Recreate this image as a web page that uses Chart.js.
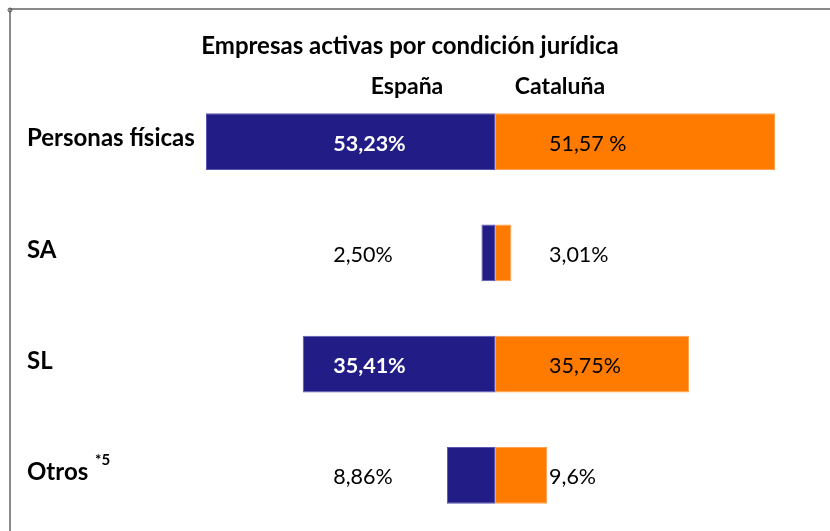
<!DOCTYPE html>
<html>
<head>
<meta charset="utf-8">
<script src="https://cdn.jsdelivr.net/npm/chart.js@4/dist/chart.umd.min.js"></script>
<style>
  html, body { margin: 0; padding: 0; background: #fff; }
  #wrap { width: 830px; height: 531px; position: relative; }
</style>
</head>
<body>
<div id="wrap"><canvas id="barChart"></canvas></div>
<script>
const categories = ['Personas físicas', 'SA', 'SL', 'Otros'];
const espana = [53.23, 2.50, 35.41, 8.86];
const cataluna = [51.57, 3.01, 35.75, 9.6];
const espanaLabels = ['53,23%', '2,50%', '35,41%', '8,86%'];
const catalunaLabels = ['51,57 %', '3,01%', '35,75%', '9,6%'];

const FONT = 'Lato, "Open Sans", sans-serif';

// frame, titles, category names and value labels
const decor = {
  id: 'decor',
  beforeDraw(chart) {
    const c = chart.ctx;
    c.save();
    c.strokeStyle = '#8a8a8a';
    c.lineWidth = 2;
    c.beginPath();
    c.moveTo(10, 531);
    c.lineTo(10, 9);
    c.lineTo(830, 9);
    c.stroke();
    c.lineWidth = 1;
    c.strokeStyle = '#555';
    c.beginPath();
    c.arc(10, 10, 2, 0, Math.PI * 2);
    c.stroke();
    c.restore();
  },
  afterDatasetsDraw(chart) {
    const c = chart.ctx;
    const x = chart.scales.x;
    const y = chart.scales.y;
    c.save();
    c.textBaseline = 'middle';
    c.fillStyle = '#000';

    c.textAlign = 'center';
    c.font = 'bold 24px ' + FONT;
    c.fillText('Empresas activas por condición jurídica', 410, 46);
    c.font = 'bold 23px ' + FONT;
    c.fillText('España', 407, 87);
    c.fillText('Cataluña', 560, 87);

    c.textAlign = 'left';
    categories.forEach((cat, i) => {
      const cy = y.getPixelForValue(i) - 3;
      c.font = 'bold 24px ' + FONT;
      c.fillStyle = '#000';
      c.fillText(cat, 27, cy);
      if (cat === 'Otros') {
        const w = c.measureText(cat + ' ').width;
        c.font = 'bold 15px ' + FONT;
        c.fillText('*5', 27 + w + 1, cy - 12);
      }

      const vy = y.getPixelForValue(i) + 2;
      const big = espana[i] > 20;
      c.font = (big ? 'bold ' : '') + '21.5px ' + FONT;
      c.fillStyle = big ? '#fff' : '#000';
      c.fillText(espanaLabels[i], x.getPixelForValue(-29.8), vy);

      c.font = '21.5px ' + FONT;
      c.fillStyle = '#000';
      c.fillText(catalunaLabels[i], x.getPixelForValue(9.95), vy);
    });
    c.restore();
  }
};

new Chart(document.getElementById('barChart'), {
  type: 'bar',
  data: {
    labels: categories,
    datasets: [{
      label: 'España',
      data: espana.map(v => -v),
      backgroundColor: '#221c87',
      borderColor: '#5a55b0',
      borderWidth: 1,
      borderSkipped: false
    }, {
      label: 'Cataluña',
      data: cataluna,
      backgroundColor: '#ff7b00',
      borderColor: '#ffa14d',
      borderWidth: 1,
      borderSkipped: false
    }]
  },
  options: {
    indexAxis: 'y',
    responsive: true,
    maintainAspectRatio: false,
    animation: false,
    barPercentage: 1,
    categoryPercentage: 0.51,
    layout: { padding: { left: 200, right: 5, top: 86, bottom: 0 } },
    plugins: {
      legend: { display: false },
      tooltip: { enabled: false }
    },
    scales: {
      x: { stacked: true, display: false, min: -54.33, max: 60.77 },
      y: { stacked: true, display: false }
    }
  },
  plugins: [decor]
});
</script>
</body>
</html>
